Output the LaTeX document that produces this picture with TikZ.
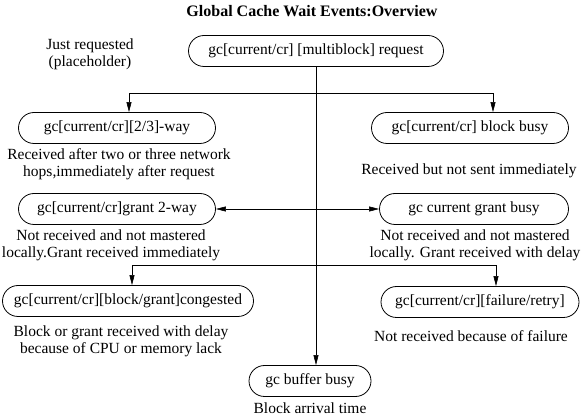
\documentclass[tikz,border=0pt]{standalone}
\usepackage{fontspec}
\setmainfont{Liberation Serif}
\usetikzlibrary{arrows.meta,shapes.misc}

\begin{document}
\begin{tikzpicture}[x=1pt,y=-1pt,
    event/.style={draw,rounded rectangle,thick,minimum height=31pt,inner sep=2pt,
      font=\fontsize{15.5}{17}\selectfont},
    note/.style={align=center,inner sep=0pt,font=\fontsize{15.5}{17}\selectfont},
    arr/.style={semithick,-{Triangle[length=10pt,width=5pt]}}]
  \useasboundingbox (0,0) rectangle (584,419);

  \node at (312,11) (title) {\fontsize{16}{18}\selectfont\bfseries Global Cache Wait Events:Overview};

  \node[event,minimum width=259pt] at (316,51) (request) {gc[current/cr] [multiblock] request};
  \node[note] at (90,54) (justreq) {Just requested\\(placeholder)};

  \node[event,minimum width=201pt] at (117,128) (way) {gc[current/cr][2/3]-way};
  \node[event,minimum width=201pt] at (470,128) (blockbusy) {gc[current/cr] block busy};
  \node[note] at (119,164) (waytxt) {Received after two or three network\\hops,immediately after request};
  \node[note] at (469,171) (blockbusytxt) {Received but not sent immediately};

  \node[event,minimum width=201pt] at (117,209) (grant2) {gc[current/cr]grant 2-way};
  \node[event,minimum width=193pt] at (474,209) (grantbusy) {gc current grant busy};
  \node[note] at (111,245) (grant2txt) {Not received and not mastered\\locally.Grant received immediately};
  \node[note] at (475,245) (grantbusytxt) {Not received and not mastered\\locally. Grant received with delay};

  \node[event,minimum width=255pt] at (128,301) (congested) {gc[current/cr][block/grant]congested};
  \node[event,minimum width=202pt] at (480,302) (failure) {gc[current/cr][failure/retry]};
  \node[note] at (121,341) (congestedtxt) {Block or grant received with delay\\because of CPU or memory lack};
  \node[note] at (471,336) (failuretxt) {Not received because of failure};

  \node[event,minimum width=126pt] at (310,381) (buffer) {gc buffer busy};
  \node[note] at (310,408) (buffertxt) {Block arrival time};

  \coordinate (split1) at (316,93);
  \coordinate (split2) at (316,265);

  \draw[arr] (request.south) -- (request.south |- buffer.north);
  \draw[arr] (split1) -| ([xshift=12pt]way.north);
  \draw[arr] (split1) -| ([xshift=23pt]blockbusy.north);
  \draw[arr] (split2) -| ([xshift=4pt]congested.north);
  \draw[arr] (split2) -| ([xshift=16pt]failure.north);
  \draw[semithick,{Triangle[length=10pt,width=5pt]}-{Triangle[length=10pt,width=5pt]}] (grant2.east) -- (grantbusy.west);
\end{tikzpicture}
\end{document}
